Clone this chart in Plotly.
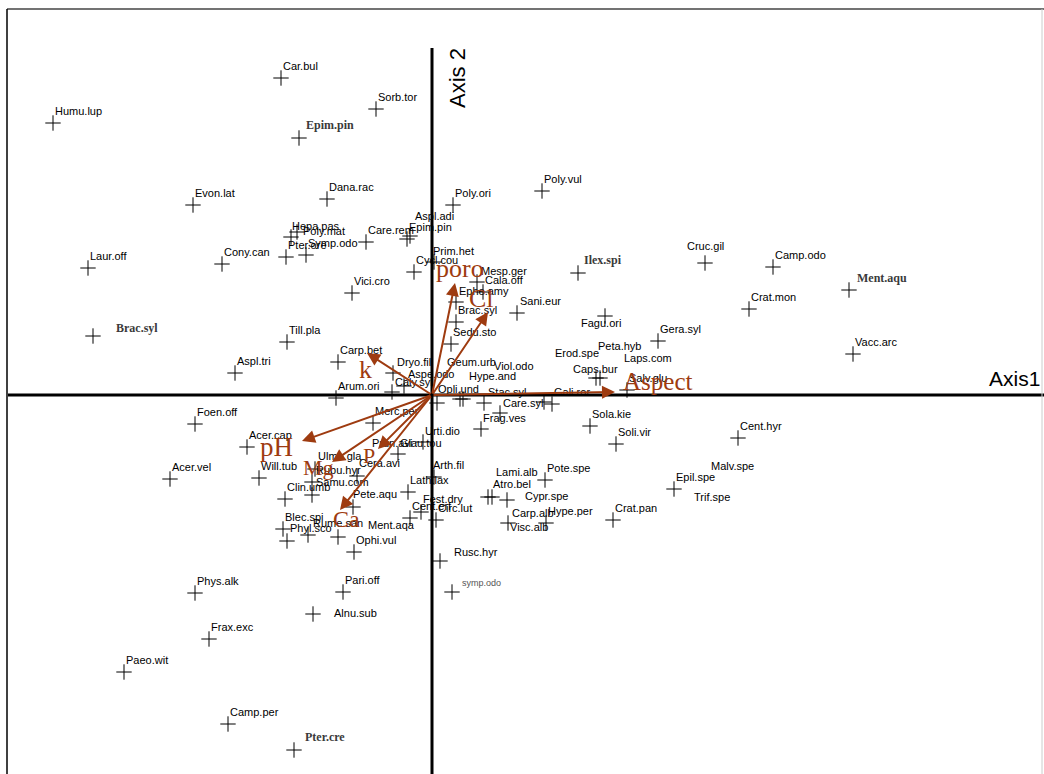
import plotly.graph_objects as go

# ---------------------------------------------------------------
# Species scores on the first two ordination axes
# ---------------------------------------------------------------
species = [
    "Car.bul", "Sorb.tor", "Humu.lup", "Poly.vul", "Dana.rac", "Evon.lat",
    "Poly.ori", "Aspl.adi", "Hepa.pas", "Poly.mat", "Epim.pin", "Care.rem",
    "Pter.ore", "Symp.odo", "Cony.can", "Laur.off", "Cycl.cou", "Prim.het",
    "Cruc.gil", "Camp.odo", "Mesp.ger", "Cala.off", "Vici.cro", "Ephe.amy",
    "Crat.mon", "Sani.eur", "Brac.syl", "Fagu.ori", "Gera.syl", "Till.pla",
    "Sedu.sto", "Vacc.arc", "Caps.bur", "Erod.spe", "Peta.hyb", "Laps.com",
    "Salv.glu", "Carp.bet", "Dryo.fil", "Aspe.odo", "Caly.syl", "Arum.ori",
    "Aspl.tri", "Opli.und", "Geum.urb", "Hype.and", "Stac.syl", "Viol.odo",
    "Care.syl", "Gali.ror", "Merc.per", "Foen.off", "Frag.ves", "Sola.kie",
    "Urti.dio", "Soli.vir", "Cent.hyr", "Acer.cap", "Prun.avi", "Glau.tou",
    "Cera.avi", "Ulmu.gla", "Rubu.hyr", "Samu.com", "Clin.umb", "Arth.fil",
    "Will.tub", "Acer.vel", "Malv.spe", "Epil.spe", "Trif.spe", "Lami.alb",
    "Atro.bel", "Cypr.spe", "Pote.spe", "Lath.lax", "Pete.aqu", "Fest.dry",
    "Cent.erf", "Circ.lut", "Crat.pan", "Carp.alb", "Visc.alb", "Hype.per",
    "Blec.spi", "Rume.san", "Ment.aqa", "Phyl.sco", "Ophi.vul", "Rusc.hyr",
    "Pari.off", "Phys.alk", "Alnu.sub", "Frax.exc", "Paeo.wit", "Camp.per",
]
axis1 = [
    -1.51, -0.56, -3.79, 1.10, -1.05, -2.39,
    0.21, -0.22, -1.41, -1.35, -0.25, -0.66,
    -1.46, -1.26, -2.10, -3.44, -0.18, 0.02,
    2.73, 3.41, 0.45, 0.51, -0.80, 0.24,
    3.17, 0.85, 0.24, 1.73, 2.26, -1.45,
    0.19, 4.21, 1.64, 1.64, 1.68, 1.95,
    1.95, -0.94, -0.39, -0.28, -0.40, -0.96,
    -1.97, 0.05, 0.28, 0.31, 0.52, 0.52,
    1.12, 1.20, -0.59, -2.37, 0.68, 1.58,
    0.49, 1.84, 3.06, -1.85, -0.34, -0.09,
    -0.75, -1.17, -1.20, -1.20, -1.47, 0.02,
    -1.73, -2.62, 2.42, 2.42, 2.42, 0.56,
    0.60, 0.75, 1.13, -0.24, -0.79, -0.11,
    -0.22, 0.04, 1.81, 0.76, 0.76, 1.14,
    -1.49, -1.24, -0.94, -1.45, -0.78, 0.08,
    -0.89, -2.37, -1.19, -2.23, -3.08, -2.04,
]
axis2 = [
    3.17, 2.86, 2.72, 2.04, 1.96, 1.90,
    1.90, 1.59, 1.58, 1.63, 1.56, 1.53,
    1.38, 1.40, 1.31, 1.27, 1.23, 1.33,
    1.32, 1.28, 1.13, 1.03, 1.02, 0.93,
    0.86, 0.82, 0.73, 0.79, 0.54, 0.53,
    0.51, 0.41, 0.17, 0.17, 0.17, 0.05,
    0.05, 0.33, 0.22, 0.09, 0.03, -0.03,
    0.22, -0.08, -0.04, -0.04, -0.08, -0.08,
    -0.07, -0.09, -0.28, -0.29, -0.18, -0.31,
    -0.34, -0.49, -0.43, -0.52, -0.59, -0.47,
    -0.81, -0.74, -0.87, -1.00, -1.04, -0.82,
    -0.83, -0.84, -0.94, -0.94, -0.94, -1.02,
    -1.02, -1.05, -0.85, -0.97, -1.12, -1.17,
    -1.23, -1.25, -1.25, -1.28, -1.28, -1.28,
    -1.34, -1.40, -1.42, -1.46, -1.57, -1.66,
    -1.97, -1.98, -2.19, -2.44, -2.77, -3.29,
]

# Highlighted species (printed in bold serif)
key_species = ["Epim.pin", "Ilex.spi", "Ment.aqu", "Brac.syl", "Pter.cre"]
key_axis1 = [-1.33, 1.46, 4.17, -3.39, -1.38]
key_axis2 = [2.57, 1.22, 1.05, 0.59, -3.55]

# Minor species (small grey label)
minor_species = ["symp.odo"]
minor_axis1 = [0.20]
minor_axis2 = [-1.97]

# Environmental variables (biplot arrows)
env_vars = ["Aspect", "poro", "Cl", "k", "pH", "Mg", "P", "Ca"]
env_axis1 = [1.83, 0.23, 0.56, -0.65, -1.30, -1.00, -0.54, -0.92]
env_axis2 = [0.03, 1.12, 0.83, 0.42, -0.46, -0.67, -0.54, -1.15]

# ---------------------------------------------------------------
# Label placement (pixel offsets of the label from its cross)
# ---------------------------------------------------------------
DEFAULT_NUDGE = (1, -12)
nudge = {
    "Aspl.adi": (4, -20), "Hepa.pas": (0, -11), "Poly.mat": (5, -1),
    "Prim.het": (-2, -11), "Cruc.gil": (-19, -17), "Mesp.ger": (3, -11),
    "Ephe.amy": (2, -11), "Sani.eur": (2, -12), "Fagu.ori": (-25, 7),
    "Caps.bur": (-24, -9), "Erod.spe": (-42, -25), "Peta.hyb": (-3, -32),
    "Laps.com": (-4, -32), "Dryo.fil": (3, -11), "Aspe.odo": (3, -12),
    "Caly.syl": (2, -10), "Opli.und": (0, -14), "Geum.urb": (-14, -37),
    "Hype.and": (5, -23), "Stac.syl": (3, -11), "Viol.odo": (9, -37),
    "Care.syl": (-42, 1), "Frag.ves": (-18, 5), "Urti.dio": (-57, 2),
    "Prun.avi": (-27, -11), "Glau.tou": (-24, 1), "Cera.avi": (1, -13),
    "Ulmu.gla": (2, -13), "Rubu.hyr": (3, -12), "Samu.com": (3, -13),
    "Arth.fil": (-2, -12), "Malv.spe": (36, -23), "Trif.spe": (19, 8),
    "Lami.alb": (7, -25), "Atro.bel": (0, -13), "Cypr.spe": (17, -4),
    "Pete.aqu": (-1, -13), "Fest.dry": (1, -13), "Carp.alb": (3, -10),
    "Visc.alb": (1, 4), "Rume.san": (4, -12), "Ment.aqa": (29, -12),
    "Phyl.sco": (2, -13), "Rusc.hyr": (13, -9), "Alnu.sub": (20, -1),
}
key_nudge = {
    "Epim.pin": (6, -13), "Ilex.spi": (5, -13), "Ment.aqu": (7, -12),
    "Brac.syl": (22, -8), "Pter.cre": (10, -13),
}
minor_nudge = {"symp.odo": (9, -9)}
# env label centre relative to arrow tip, and font size
env_label = {
    "Aspect": (42, -11, 25), "poro": (5, -15, 26), "Cl": (-7, -14, 26),
    "k": (-2, 16, 26), "pH": (-26, 6, 27), "Mg": (-14, 5, 22),
    "P": (-9, 6, 22), "Ca": (6, 9, 24),
}

ARROW = "#9E3B10"
SANS = "Liberation Sans, Arial, sans-serif"
SERIF = "Liberation Serif, Times New Roman, serif"

fig = go.Figure()

# drop exact duplicate positions so stacked crosses are drawn once
seen = set()
cx, cy = [], []
for x, y in zip(axis1 + key_axis1 + minor_axis1, axis2 + key_axis2 + minor_axis2):
    if (x, y) not in seen:
        seen.add((x, y))
        cx.append(x)
        cy.append(y)

cross = dict(symbol="cross-thin", size=11, line=dict(width=1, color="black"),
             color="black")
fig.add_trace(go.Scatter(x=cx, y=cy, mode="markers", marker=cross,
                         hoverinfo="skip", showlegend=False))

ann = []


def add_labels(names, xs, ys, offsets, font):
    for n, x, y in zip(names, xs, ys):
        dx, dy = offsets.get(n, DEFAULT_NUDGE)
        ann.append(dict(x=x, y=y, xref="x", yref="y", text=n, showarrow=False,
                        xanchor="left", yanchor="middle", xshift=dx,
                        yshift=-dy, font=font, borderpad=0))


add_labels(species, axis1, axis2, nudge,
           dict(family=SANS, size=11, color="black"))
add_labels(key_species, key_axis1, key_axis2, key_nudge,
           dict(family=SERIF, size=12, color="#3a3a3a", weight="bold"))
add_labels(minor_species, minor_axis1, minor_axis2, minor_nudge,
           dict(family=SANS, size=9, color="#555555"))

# biplot arrows from the origin
for n, x, y in zip(env_vars, env_axis1, env_axis2):
    ann.append(dict(x=x, y=y, xref="x", yref="y", ax=0, ay=0, axref="x",
                    ayref="y", text="", showarrow=True, arrowhead=2,
                    arrowsize=1.3, arrowwidth=2, arrowcolor=ARROW, standoff=0))
for n, x, y in zip(env_vars, env_axis1, env_axis2):
    dx, dy, fs = env_label[n]
    ann.append(dict(x=x, y=y, xref="x", yref="y", text=n, showarrow=False,
                    xanchor="center", yanchor="middle", xshift=dx, yshift=-dy,
                    font=dict(family=SERIF, size=fs, color=ARROW)))

# axis titles
ann.append(dict(x=0.25, y=3.17, xref="x", yref="y", text="Axis 2",
                showarrow=False, textangle=-90,
                font=dict(family=SANS, size=22, color="black")))
ann.append(dict(x=5.82, y=0.17, xref="x", yref="y", text="Axis1",
                showarrow=False, font=dict(family=SANS, size=21, color="black")))

shapes = [
    # ordination axes through the origin
    dict(type="line", xref="x", yref="y", x0=0, x1=0, y0=-3.79, y1=3.47,
         line=dict(color="black", width=3)),
    dict(type="line", xref="x", yref="y", x0=-4.24, x1=6.12, y0=0, y1=0,
         line=dict(color="black", width=3)),
    # frame
    dict(type="line", xref="paper", yref="paper", x0=7 / 1044, x1=1,
         y0=1 - 9 / 774, y1=1 - 9 / 774, line=dict(color="#444444", width=1.5)),
    dict(type="line", xref="paper", yref="paper", x0=7 / 1044, x1=7 / 1044,
         y0=0, y1=1 - 9 / 774, line=dict(color="black", width=1.5)),
    dict(type="line", xref="paper", yref="paper", x0=1042 / 1044,
         x1=1042 / 1044, y0=0, y1=1 - 9 / 774,
         line=dict(color="#cccccc", width=1)),
]

fig.update_layout(
    width=1044, height=774,
    margin=dict(l=0, r=0, t=0, b=0),
    paper_bgcolor="white", plot_bgcolor="white",
    xaxis=dict(range=[-4.32, 6.12], visible=False, fixedrange=True),
    yaxis=dict(range=[-3.79, 3.95], visible=False, fixedrange=True),
    annotations=ann, shapes=shapes, showlegend=False,
)

fig.write_html("out.html")
